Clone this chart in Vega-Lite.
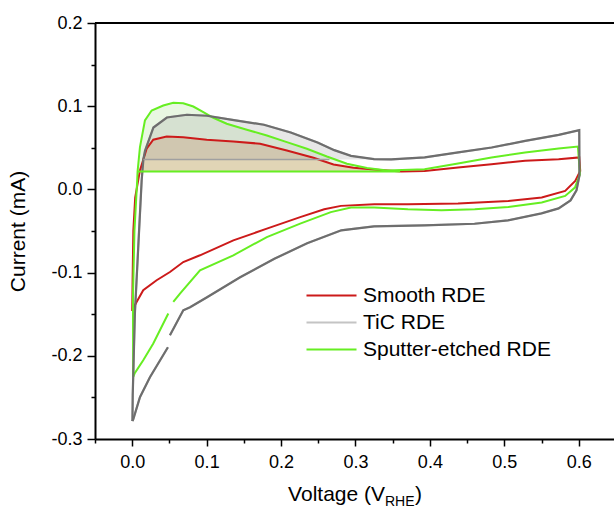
{
"$schema":"https://vega.github.io/schema/vega-lite/v6.json",
"width":519,"height":416,"autosize":"none",
"padding":{"left":95,"top":23,"right":0,"bottom":69},
"config":{"view":{"stroke":null},"font":"Liberation Sans",
"axis":{"domainColor":"black","domainWidth":2,"tickColor":"black","tickWidth":1.5,"labelFont":"Liberation Sans","labelFontSize":18,"labelColor":"black","titleFont":"Liberation Sans","titleFontSize":21,"titleFontWeight":"normal","titleColor":"black","grid":false,"labelOverlap":false,"labelFlush":false,"labelBound":false},
"axisX":{"values":[-0.05,0,0.05,0.1,0.15,0.2,0.25,0.3,0.35,0.4,0.45,0.5,0.55,0.6],"labelPadding":7,"title":null},
"axisY":{"values":[-0.3,-0.25,-0.2,-0.15,-0.1,-0.05,0,0.05,0.1,0.15,0.2],"labelPadding":5,"titlePadding":22}},
"data":{"values":[
{"s":"TiC RDE","k":"t1","b":"u","o":1,"V":0.0003,"I":-0.2785},
{"s":"TiC RDE","k":"t1","b":"u","o":2,"V":0.0007,"I":-0.247},
{"s":"TiC RDE","k":"t1","b":"u","o":3,"V":0.0036,"I":-0.149},
{"s":"TiC RDE","k":"t1","b":"u","o":4,"V":0.0081,"I":-0.0696},
{"s":"TiC RDE","k":"t1","b":"u","o":5,"V":0.0127,"I":0.0108},
{"s":"TiC RDE","k":"t1","b":"u","o":6,"V":0.015,"I":0.036},
{"s":"TiC RDE","k":"t1","b":"u","o":7,"V":0.0172,"I":0.0463},
{"s":"TiC RDE","k":"t1","b":"u","o":8,"V":0.0285,"I":0.0744},
{"s":"TiC RDE","k":"t1","b":"u","o":9,"V":0.0466,"I":0.0864},
{"s":"TiC RDE","k":"t1","b":"u","o":10,"V":0.0735,"I":0.0897},
{"s":"TiC RDE","k":"t1","b":"u","o":11,"V":0.1005,"I":0.0885},
{"s":"TiC RDE","k":"t1","b":"u","o":12,"V":0.1365,"I":0.0833},
{"s":"TiC RDE","k":"t1","b":"u","o":13,"V":0.177,"I":0.0777},
{"s":"TiC RDE","k":"t1","b":"u","o":14,"V":0.213,"I":0.0684},
{"s":"TiC RDE","k":"t1","b":"u","o":15,"V":0.249,"I":0.0564},
{"s":"TiC RDE","k":"t1","b":"u","o":16,"V":0.2715,"I":0.0472},
{"s":"TiC RDE","k":"t1","b":"u","o":17,"V":0.294,"I":0.0403},
{"s":"TiC RDE","k":"t1","b":"u","o":18,"V":0.325,"I":0.0363},
{"s":"TiC RDE","k":"t1","b":"u","o":19,"V":0.348,"I":0.036},
{"s":"TiC RDE","k":"t1","b":"u","o":20,"V":0.393,"I":0.0384},
{"s":"TiC RDE","k":"t1","b":"u","o":21,"V":0.438,"I":0.0444},
{"s":"TiC RDE","k":"t1","b":"u","o":22,"V":0.483,"I":0.0504},
{"s":"TiC RDE","k":"t1","b":"u","o":23,"V":0.528,"I":0.0583},
{"s":"TiC RDE","k":"t1","b":"u","o":24,"V":0.573,"I":0.0655},
{"s":"TiC RDE","k":"t1","b":"u","o":25,"V":0.6007,"I":0.0712},
{"s":"TiC RDE","k":"t1","b":"d","o":26,"V":0.601,"I":0.0168},
{"s":"TiC RDE","k":"t1","b":"d","o":27,"V":0.597,"I":-0.0012},
{"s":"TiC RDE","k":"t1","b":"d","o":28,"V":0.589,"I":-0.0132},
{"s":"TiC RDE","k":"t1","b":"d","o":29,"V":0.573,"I":-0.0228},
{"s":"TiC RDE","k":"t1","b":"d","o":30,"V":0.55,"I":-0.0288},
{"s":"TiC RDE","k":"t1","b":"d","o":31,"V":0.505,"I":-0.0372},
{"s":"TiC RDE","k":"t1","b":"d","o":32,"V":0.46,"I":-0.0413},
{"s":"TiC RDE","k":"t1","b":"d","o":33,"V":0.393,"I":-0.0432},
{"s":"TiC RDE","k":"t1","b":"d","o":34,"V":0.325,"I":-0.0444},
{"s":"TiC RDE","k":"t1","b":"d","o":35,"V":0.281,"I":-0.0492},
{"s":"TiC RDE","k":"t1","b":"d","o":36,"V":0.235,"I":-0.0648},
{"s":"TiC RDE","k":"t1","b":"d","o":37,"V":0.191,"I":-0.0834},
{"s":"TiC RDE","k":"t1","b":"d","o":38,"V":0.145,"I":-0.1056},
{"s":"TiC RDE","k":"t1","b":"d","o":39,"V":0.1005,"I":-0.1297},
{"s":"TiC RDE","k":"t1","b":"d","o":40,"V":0.0777,"I":-0.1417},
{"s":"TiC RDE","k":"t1","b":"d","o":41,"V":0.0686,"I":-0.1453},
{"s":"TiC RDE","k":"t1","b":"d","o":42,"V":0.0507,"I":-0.1753},
{"s":"TiC RDE","k":"t2","b":"d","o":43,"V":0.048,"I":-0.1897},
{"s":"TiC RDE","k":"t2","b":"d","o":44,"V":0.0238,"I":-0.2257},
{"s":"TiC RDE","k":"t2","b":"d","o":45,"V":0.0104,"I":-0.2497},
{"s":"TiC RDE","k":"t2","b":"d","o":46,"V":0.0015,"I":-0.2761},
{"s":"TiC RDE","k":"t2","b":"d","o":47,"V":0.0003,"I":-0.2785},
{"s":"Smooth RDE","k":"r1","b":"u","o":1,"V":0.0,"I":-0.1461},
{"s":"Smooth RDE","k":"r1","b":"u","o":2,"V":0.0005,"I":-0.11},
{"s":"Smooth RDE","k":"r1","b":"u","o":3,"V":0.0015,"I":-0.05},
{"s":"Smooth RDE","k":"r1","b":"u","o":4,"V":0.004,"I":-0.01},
{"s":"Smooth RDE","k":"r1","b":"u","o":5,"V":0.0065,"I":0.003},
{"s":"Smooth RDE","k":"r1","b":"u","o":6,"V":0.0104,"I":0.0228},
{"s":"Smooth RDE","k":"r1","b":"u","o":7,"V":0.0194,"I":0.0489},
{"s":"Smooth RDE","k":"r1","b":"u","o":8,"V":0.0283,"I":0.0597},
{"s":"Smooth RDE","k":"r1","b":"u","o":9,"V":0.0463,"I":0.0636},
{"s":"Smooth RDE","k":"r1","b":"u","o":10,"V":0.0686,"I":0.0628},
{"s":"Smooth RDE","k":"r1","b":"u","o":11,"V":0.1001,"I":0.0597},
{"s":"Smooth RDE","k":"r1","b":"u","o":12,"V":0.1359,"I":0.0576},
{"s":"Smooth RDE","k":"r1","b":"u","o":13,"V":0.1719,"I":0.0549},
{"s":"Smooth RDE","k":"r1","b":"u","o":14,"V":0.2078,"I":0.0468},
{"s":"Smooth RDE","k":"r1","b":"u","o":15,"V":0.2436,"I":0.0381},
{"s":"Smooth RDE","k":"r1","b":"u","o":16,"V":0.2705,"I":0.03},
{"s":"Smooth RDE","k":"r1","b":"u","o":17,"V":0.2974,"I":0.026},
{"s":"Smooth RDE","k":"r1","b":"u","o":18,"V":0.3289,"I":0.0236},
{"s":"Smooth RDE","k":"r1","b":"u","o":19,"V":0.3614,"I":0.0215},
{"s":"Smooth RDE","k":"r1","b":"u","o":20,"V":0.3929,"I":0.0222},
{"s":"Smooth RDE","k":"r1","b":"u","o":21,"V":0.4378,"I":0.0263},
{"s":"Smooth RDE","k":"r1","b":"u","o":22,"V":0.4828,"I":0.0303},
{"s":"Smooth RDE","k":"r1","b":"u","o":23,"V":0.5279,"I":0.0343},
{"s":"Smooth RDE","k":"r1","b":"u","o":24,"V":0.573,"I":0.0363},
{"s":"Smooth RDE","k":"r1","b":"u","o":25,"V":0.6007,"I":0.0384},
{"s":"Smooth RDE","k":"r1","b":"d","o":26,"V":0.602,"I":0.0222},
{"s":"Smooth RDE","k":"r1","b":"d","o":27,"V":0.5953,"I":0.0102},
{"s":"Smooth RDE","k":"r1","b":"d","o":28,"V":0.5818,"I":-0.0018},
{"s":"Smooth RDE","k":"r1","b":"d","o":29,"V":0.5503,"I":-0.0098},
{"s":"Smooth RDE","k":"r1","b":"d","o":30,"V":0.5054,"I":-0.0138},
{"s":"Smooth RDE","k":"r1","b":"d","o":31,"V":0.4378,"I":-0.017},
{"s":"Smooth RDE","k":"r1","b":"d","o":32,"V":0.3704,"I":-0.0179},
{"s":"Smooth RDE","k":"r1","b":"d","o":33,"V":0.3253,"I":-0.0179},
{"s":"Smooth RDE","k":"r1","b":"d","o":34,"V":0.2805,"I":-0.0198},
{"s":"Smooth RDE","k":"r1","b":"d","o":35,"V":0.258,"I":-0.0239},
{"s":"Smooth RDE","k":"r1","b":"d","o":36,"V":0.2257,"I":-0.0333},
{"s":"Smooth RDE","k":"r1","b":"d","o":37,"V":0.1809,"I":-0.0472},
{"s":"Smooth RDE","k":"r1","b":"d","o":38,"V":0.1359,"I":-0.0612},
{"s":"Smooth RDE","k":"r1","b":"d","o":39,"V":0.0911,"I":-0.0792},
{"s":"Smooth RDE","k":"r1","b":"d","o":40,"V":0.0686,"I":-0.0873},
{"s":"Smooth RDE","k":"r1","b":"d","o":41,"V":0.0507,"I":-0.0993},
{"s":"Smooth RDE","k":"r1","b":"d","o":42,"V":0.0328,"I":-0.1092},
{"s":"Smooth RDE","k":"r1","b":"d","o":43,"V":0.0148,"I":-0.1212},
{"s":"Smooth RDE","k":"r1","b":"d","o":44,"V":0.0059,"I":-0.1353},
{"s":"Smooth RDE","k":"r1","b":"d","o":45,"V":0.0013,"I":-0.1432},
{"s":"Smooth RDE","k":"r1","b":"d","o":46,"V":0.0,"I":-0.1461},
{"s":"Sputter-etched RDE","k":"s1","b":"u","o":1,"V":0.0013,"I":-0.2253},
{"s":"Sputter-etched RDE","k":"s1","b":"u","o":2,"V":0.001,"I":-0.13},
{"s":"Sputter-etched RDE","k":"s1","b":"u","o":3,"V":0.003,"I":-0.05},
{"s":"Sputter-etched RDE","k":"s1","b":"u","o":4,"V":0.0067,"I":0.0108},
{"s":"Sputter-etched RDE","k":"s1","b":"u","o":5,"V":0.0072,"I":0.0215},
{"s":"Sputter-etched RDE","k":"s1","b":"u","o":6,"V":0.0104,"I":0.0508},
{"s":"Sputter-etched RDE","k":"s1","b":"u","o":7,"V":0.0171,"I":0.0828},
{"s":"Sputter-etched RDE","k":"s1","b":"u","o":8,"V":0.0261,"I":0.0948},
{"s":"Sputter-etched RDE","k":"s1","b":"u","o":9,"V":0.0417,"I":0.1008},
{"s":"Sputter-etched RDE","k":"s1","b":"u","o":10,"V":0.0552,"I":0.1041},
{"s":"Sputter-etched RDE","k":"s1","b":"u","o":11,"V":0.0686,"I":0.1036},
{"s":"Sputter-etched RDE","k":"s1","b":"u","o":12,"V":0.0821,"I":0.0996},
{"s":"Sputter-etched RDE","k":"s1","b":"u","o":13,"V":0.0956,"I":0.0928},
{"s":"Sputter-etched RDE","k":"s1","b":"u","o":14,"V":0.109,"I":0.0861},
{"s":"Sputter-etched RDE","k":"s1","b":"u","o":15,"V":0.127,"I":0.0789},
{"s":"Sputter-etched RDE","k":"s1","b":"u","o":16,"V":0.154,"I":0.0717},
{"s":"Sputter-etched RDE","k":"s1","b":"u","o":17,"V":0.1809,"I":0.0648},
{"s":"Sputter-etched RDE","k":"s1","b":"u","o":18,"V":0.2078,"I":0.0568},
{"s":"Sputter-etched RDE","k":"s1","b":"u","o":19,"V":0.2347,"I":0.0489},
{"s":"Sputter-etched RDE","k":"s1","b":"u","o":20,"V":0.2616,"I":0.0396},
{"s":"Sputter-etched RDE","k":"s1","b":"u","o":21,"V":0.2886,"I":0.0309},
{"s":"Sputter-etched RDE","k":"s1","b":"u","o":22,"V":0.3155,"I":0.0256},
{"s":"Sputter-etched RDE","k":"s1","b":"u","o":23,"V":0.3424,"I":0.0228},
{"s":"Sputter-etched RDE","k":"s1","b":"u","o":24,"V":0.3929,"I":0.0242},
{"s":"Sputter-etched RDE","k":"s1","b":"u","o":25,"V":0.4378,"I":0.0311},
{"s":"Sputter-etched RDE","k":"s1","b":"u","o":26,"V":0.4828,"I":0.0383},
{"s":"Sputter-etched RDE","k":"s1","b":"u","o":27,"V":0.5279,"I":0.0443},
{"s":"Sputter-etched RDE","k":"s1","b":"u","o":28,"V":0.573,"I":0.0491},
{"s":"Sputter-etched RDE","k":"s1","b":"u","o":29,"V":0.5989,"I":0.0515},
{"s":"Sputter-etched RDE","k":"s1","b":"d","o":30,"V":0.6016,"I":0.0182},
{"s":"Sputter-etched RDE","k":"s1","b":"d","o":31,"V":0.5949,"I":0.0022},
{"s":"Sputter-etched RDE","k":"s1","b":"d","o":32,"V":0.5818,"I":-0.0078},
{"s":"Sputter-etched RDE","k":"s1","b":"d","o":33,"V":0.5503,"I":-0.0158},
{"s":"Sputter-etched RDE","k":"s1","b":"d","o":34,"V":0.5054,"I":-0.0211},
{"s":"Sputter-etched RDE","k":"s1","b":"d","o":35,"V":0.4603,"I":-0.0239},
{"s":"Sputter-etched RDE","k":"s1","b":"d","o":36,"V":0.4155,"I":-0.0251},
{"s":"Sputter-etched RDE","k":"s1","b":"d","o":37,"V":0.3704,"I":-0.0239},
{"s":"Sputter-etched RDE","k":"s1","b":"d","o":38,"V":0.3253,"I":-0.0218},
{"s":"Sputter-etched RDE","k":"s1","b":"d","o":39,"V":0.2939,"I":-0.0218},
{"s":"Sputter-etched RDE","k":"s1","b":"d","o":40,"V":0.2669,"I":-0.0273},
{"s":"Sputter-etched RDE","k":"s1","b":"d","o":41,"V":0.2257,"I":-0.0412},
{"s":"Sputter-etched RDE","k":"s1","b":"d","o":42,"V":0.1809,"I":-0.0573},
{"s":"Sputter-etched RDE","k":"s1","b":"d","o":43,"V":0.1359,"I":-0.0792},
{"s":"Sputter-etched RDE","k":"s1","b":"d","o":44,"V":0.0911,"I":-0.0972},
{"s":"Sputter-etched RDE","k":"s1","b":"d","o":45,"V":0.0642,"I":-0.1252},
{"s":"Sputter-etched RDE","k":"s1","b":"d","o":46,"V":0.0552,"I":-0.1353},
{"s":"Sputter-etched RDE","k":"s2","b":"d","o":47,"V":0.0485,"I":-0.1492},
{"s":"Sputter-etched RDE","k":"s2","b":"d","o":48,"V":0.0283,"I":-0.1852},
{"s":"Sputter-etched RDE","k":"s2","b":"d","o":49,"V":0.0148,"I":-0.2053},
{"s":"Sputter-etched RDE","k":"s2","b":"d","o":50,"V":0.0036,"I":-0.2205},
{"s":"Sputter-etched RDE","k":"s2","b":"d","o":51,"V":0.0013,"I":-0.2253}
]},
"layer":[
{"transform":[{"filter":"datum.s==='Sputter-etched RDE' && datum.b==='u' && datum.I>=0.0215 && datum.V<=0.345"}],
 "mark":{"type":"area","color":"#90d870","opacity":0.2},
 "encoding":{"x":{"field":"V","type":"quantitative","scale":{"domain":[-0.05,0.6474],"nice":false,"zero":false},
   "axis":{"labelExpr":"abs(datum.value*10-round(datum.value*10))>0.01 ? '' : replace(format(datum.value,'.1f'),'−','-')","tickSize":{"condition":{"test":"abs(datum.value*10-round(datum.value*10))>0.01","value":4},"value":7}}},
  "y":{"field":"I","type":"quantitative","scale":{"domain":[-0.3,0.2],"nice":false,"zero":false},
   "axis":{"title":"Current (mA)","labelExpr":"abs(datum.value*10-round(datum.value*10))>0.01 ? '' : replace(format(datum.value,'.1f'),'−','-')","tickSize":{"condition":{"test":"abs(datum.value*10-round(datum.value*10))>0.01","value":4},"value":8}}},
  "y2":{"datum":0.0215}}},
{"transform":[{"filter":"datum.s==='Smooth RDE' && datum.b==='u' && datum.I>=0.0215 && datum.V<=0.365"}],
 "mark":{"type":"area","color":"#d8aa80","opacity":0.45},
 "encoding":{"x":{"field":"V","type":"quantitative","scale":{"domain":[-0.05,0.6474],"nice":false,"zero":false}},
  "y":{"field":"I","type":"quantitative","scale":{"domain":[-0.3,0.2],"nice":false,"zero":false}},
  "y2":{"datum":0.0215}}},
{"transform":[{"filter":"datum.s==='TiC RDE' && datum.b==='u' && datum.I>=0.036 && datum.V<=0.35"}],
 "mark":{"type":"area","color":"#a0a0a0","opacity":0.25},
 "encoding":{"x":{"field":"V","type":"quantitative","scale":{"domain":[-0.05,0.6474],"nice":false,"zero":false}},
  "y":{"field":"I","type":"quantitative","scale":{"domain":[-0.3,0.2],"nice":false,"zero":false}},
  "y2":{"datum":0.036}}},
{"mark":{"type":"line","strokeWidth":2},
 "encoding":{
  "x":{"field":"V","type":"quantitative","scale":{"domain":[-0.05,0.6474],"nice":false,"zero":false}},
  "y":{"field":"I","type":"quantitative","scale":{"domain":[-0.3,0.2],"nice":false,"zero":false}},
  "color":{"field":"s","type":"nominal","scale":{"domain":["Smooth RDE","TiC RDE","Sputter-etched RDE"],"range":["#cc1a1a","#c4c4c4","#66ee22"]},
   "legend":{"orient":"none","legendX":226,"legendY":262,"title":null,"symbolType":"M-3,0H3","symbolSize":278,"symbolStrokeWidth":2,"labelFontSize":21,"labelFont":"Liberation Sans","labelColor":"black","labelOffset":21,"labelLimit":400,"rowPadding":5,"padding":0}},
  "detail":{"field":"k"},
  "order":{"field":"o","type":"quantitative"}}},
{"transform":[{"filter":"datum.s==='TiC RDE'"}],
 "mark":{"type":"line","strokeWidth":2.2,"color":"#6e6e6e"},
 "encoding":{
  "x":{"field":"V","type":"quantitative"},
  "y":{"field":"I","type":"quantitative"},
  "detail":{"field":"k"},
  "order":{"field":"o","type":"quantitative"}}},
{"data":{"values":[{"V":0.015,"V2":0.265,"I":0.036}]},
 "mark":{"type":"rule","color":"#a0a0a0","strokeWidth":1.5},
 "encoding":{"x":{"field":"V","type":"quantitative"},"x2":{"field":"V2"},"y":{"field":"I","type":"quantitative"}}},
{"data":{"values":[{"V":0.0072,"V2":0.36,"I":0.0215}]},
 "mark":{"type":"rule","color":"#66ee22","strokeWidth":2},
 "encoding":{"x":{"field":"V","type":"quantitative"},"x2":{"field":"V2"},"y":{"field":"I","type":"quantitative"}}},
{"data":{"values":[{"I":0.2}]},
 "mark":{"type":"rule","color":"black","strokeWidth":2},
 "encoding":{"y":{"field":"I","type":"quantitative"}}},
{"data":{"values":[{"V":0.3397,"I":-0.3745}]},
 "mark":{"type":"text","text":"Voltage (V","align":"right","baseline":"alphabetic","fontSize":21,"font":"Liberation Sans","color":"black"},
 "encoding":{"x":{"field":"V","type":"quantitative"},"y":{"field":"I","type":"quantitative"}}},
{"data":{"values":[{"V":0.3397,"I":-0.3805}]},
 "mark":{"type":"text","text":"RHE","align":"left","baseline":"alphabetic","fontSize":14,"font":"Liberation Sans","color":"black"},
 "encoding":{"x":{"field":"V","type":"quantitative"},"y":{"field":"I","type":"quantitative"}}},
{"data":{"values":[{"V":0.38,"I":-0.3745}]},
 "mark":{"type":"text","text":")","align":"left","baseline":"alphabetic","fontSize":21,"font":"Liberation Sans","color":"black"},
 "encoding":{"x":{"field":"V","type":"quantitative"},"y":{"field":"I","type":"quantitative"}}}
]
}
